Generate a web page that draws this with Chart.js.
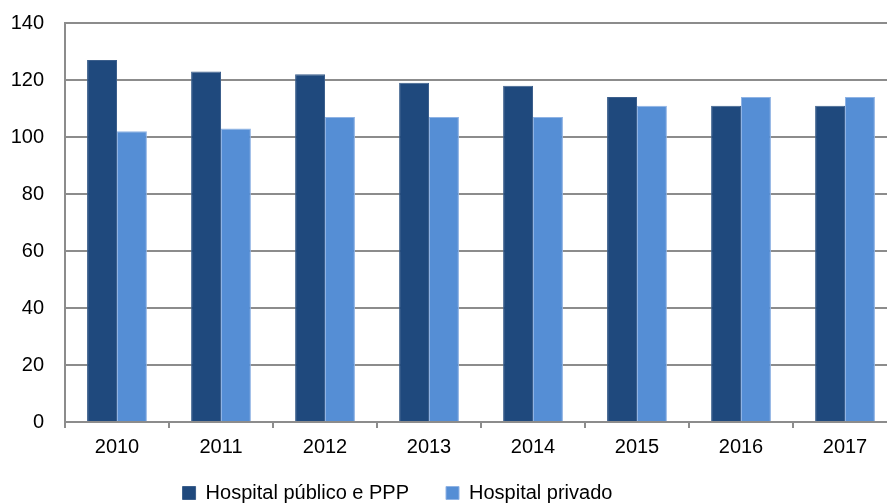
<!DOCTYPE html>
<html>
<head>
<meta charset="utf-8">
<script src="https://cdn.jsdelivr.net/npm/chart.js@4"></script>
<style>
  html, body { margin: 0; padding: 0; background: #fff; overflow: hidden; }
  #wrap { position: relative; width: 900px; height: 503px; }
</style>
</head>
<body>
<div id="wrap"><canvas id="c"></canvas></div>
<script>
const categories = ['2010', '2011', '2012', '2013', '2014', '2015', '2016', '2017'];
const publicoPPP = [127, 123, 122, 119, 118, 114, 111, 111];
const privado = [102, 103, 107, 107, 107, 111, 114, 114];
const seriesNames = ['Hospital público e PPP', 'Hospital privado'];
const yTicks = [0, 20, 40, 60, 80, 100, 120, 140];

const FONT = { family: '"Liberation Sans", Arial, sans-serif', size: 20 };
const GRID = '#8c8c8c';

const shiftLegend = {
  id: 'shiftLegend',
  afterLayout(chart) {
    const lg = chart.legend;
    if (lg) {
      const dy = (chart.chartArea.bottom + 24) - lg.top;
      lg.left -= 51; lg.right -= 51;
      lg.top += dy; lg.bottom += dy;
    }
  }
};

new Chart(document.getElementById('c'), {
  type: 'bar',
  data: {
    labels: categories,
    datasets: [
      { label: seriesNames[0], data: publicoPPP, backgroundColor: '#1f497d', borderColor: '#3c5f8c', borderWidth: 1 },
      { label: seriesNames[1], data: privado, backgroundColor: '#558ed5', borderColor: '#8fb3e4', borderWidth: 1 }
    ]
  },
  options: {
    responsive: true,
    maintainAspectRatio: false,
    animation: false,
    datasets: { bar: { categoryPercentage: 0.575, barPercentage: 1.0 } },
    layout: { padding: { top: 23, right: 3, bottom: -28, left: 0 } },
    plugins: {
      legend: {
        position: 'bottom',
        labels: { font: FONT, color: '#000', boxWidth: 13, boxHeight: 13, padding: 37 }
      },
      tooltip: { enabled: false }
    },
    scales: {
      x: {
        offset: true,
        grid: { offset: true, drawOnChartArea: false, color: GRID, lineWidth: 2, tickLength: 6 },
        border: { color: GRID, width: 2 },
        ticks: { font: FONT, color: '#000', padding: 7, maxRotation: 0 },
        afterFit(s) { s.height = 42; }
      },
      y: {
        min: 0, max: 140,
        afterBuildTicks(s) { s.ticks = yTicks.map(v => ({ value: v })); },
        grid: { color: GRID, lineWidth: 2, drawTicks: false },
        border: { color: GRID, width: 2 },
        ticks: { font: FONT, color: '#000', padding: 21 },
        afterFit(s) { s.width = 65; s.paddingTop = 0; s.paddingBottom = 0; }
      }
    }
  },
  plugins: [shiftLegend]
});
</script>
</body>
</html>
